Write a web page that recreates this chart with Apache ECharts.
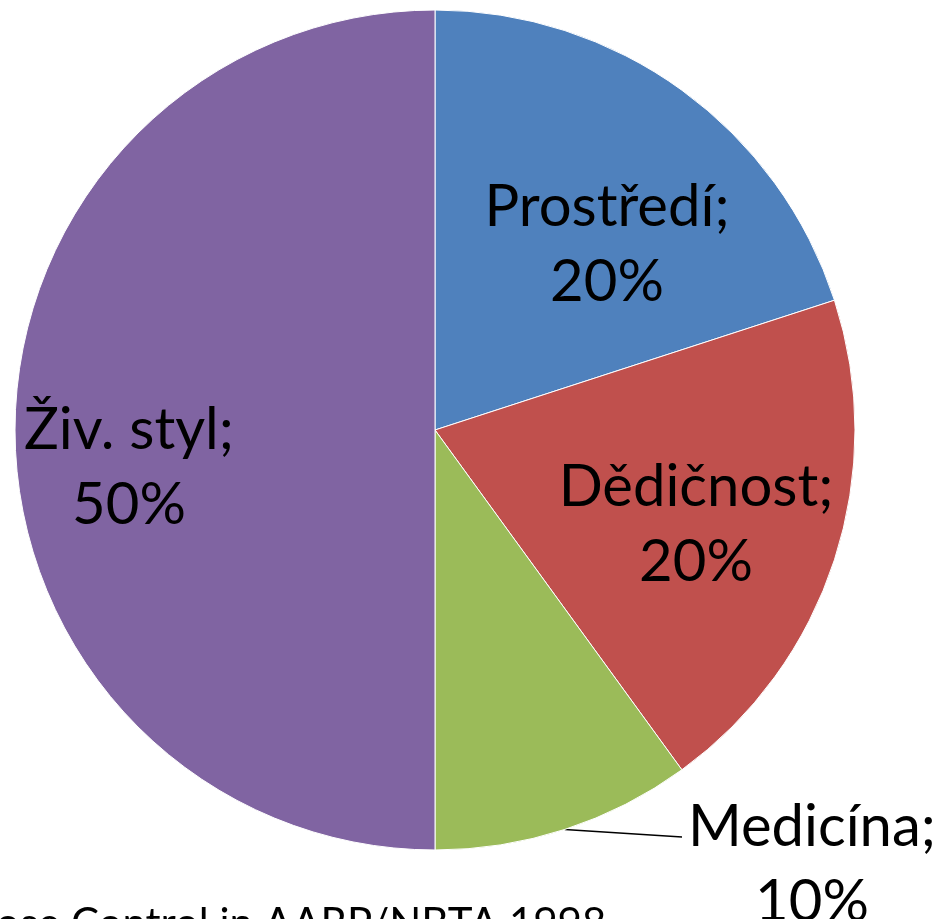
<!DOCTYPE html>
<html>
<head>
<meta charset="utf-8">
<script src="https://cdn.jsdelivr.net/npm/echarts@6/dist/echarts.min.js"></script>
<style>
  html, body { margin: 0; padding: 0; background: #fff; }
  #chart { width: 947px; height: 919px; }
</style>
</head>
<body>
<div id="chart"></div>
<script>
  // data
  var categories = ['Prostředí', 'Dědičnost', 'Medicína', 'Živ. styl']
  var values = [20, 20, 10, 50]
  var colors = ['#4F81BD', '#C0504D', '#9BBB59', '#8064A2']
  var sourceText = 'ose Control in AARP/NBTA 1998'

  // where each label sits (centre of the text block)
  var labelPos = [[607, 245], [696, 525], [812, 865], [129, 468]]

  var fontFamily = 'Lato, "Open Sans", sans-serif'

  var myChart = echarts.init(document.getElementById('chart'))
  myChart.setOption({
    animation: false,
    series: [
      {
        type: 'pie',
        center: [435, 430],
        radius: 420,
        startAngle: 90,
        clockwise: true,
        avoidLabelOverlap: false,
        itemStyle: {
          borderColor: '#fff',
          borderWidth: 1
        },
        label: {
          show: true,
          position: 'inside',
          formatter: '{b};\n{d}%',
          color: '#000',
          fontFamily: fontFamily,
          fontSize: 58,
          lineHeight: 75,
          align: 'center'
        },
        labelLine: { show: false },
        labelLayout: function (params) {
          var p = labelPos[params.dataIndex]
          var out = { x: p[0], y: p[1], align: 'center', verticalAlign: 'middle' }
          var pts = params.labelLinePoints
          if (pts && pts.length) {
            // straight leader from the slice edge to the left of the first text line
            var start = pts[0]
            var endX = p[0] - params.labelRect.width / 2 - 6
            out.labelLinePoints = [start, start, [endX, p[1] - 28]]
          }
          return out
        },
        data: categories.map(function (name, i) {
          var item = { name: name, value: values[i], itemStyle: { color: colors[i] } }
          if (i === 2) {
            item.label = { position: 'outside' }
            item.labelLine = { show: true, length: 0, length2: 115, smooth: false, lineStyle: { color: '#000', width: 1.5 } }
          }
          return item
        })
      }
    ],
    graphic: [
      {
        type: 'text',
        x: -4,
        y: 903,
        style: {
          text: sourceText,
          fontFamily: fontFamily,
          fontSize: 42,
          fill: '#000',
          align: 'left',
          verticalAlign: 'top'
        }
      }
    ]
  })
</script>
</body>
</html>
